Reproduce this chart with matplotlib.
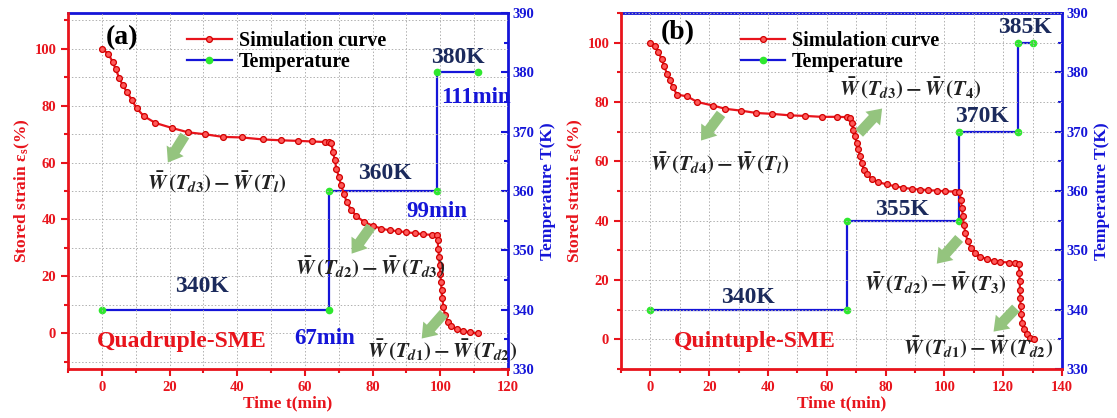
import matplotlib
matplotlib.use("Agg")
import matplotlib.pyplot as plt
from matplotlib.ticker import MultipleLocator

plt.rcParams['font.family'] = ['Liberation Serif', 'DejaVu Serif']
plt.rcParams['font.weight'] = 'bold'
plt.rcParams['mathtext.fontset'] = 'stix'

RED = '#e8141c'
BLUE = '#1515d8'
NAVY = '#1b2a5c'
GREEN = '#2ee82e'
ARROW = '#94c47e'

# panel (a) data
t_a = [0, 1.9, 3.2, 4.1, 5.1, 6.1, 7.4, 8.8, 10.3, 12.4, 15.8, 20.8, 25.5, 30.6,
       35.8, 41.4, 47.6, 53, 58, 62, 66, 67, 67.8, 68.3, 68.8, 69.3, 70.0, 70.7,
       71.5, 72.3, 73.6, 75.2, 77.4, 80, 82.6, 85, 87.5, 90, 92.5, 95, 97.4, 99,
       99.2, 99.4, 99.6, 99.8, 100.0, 100.2, 100.4, 100.6, 100.9, 101.4, 102.2,
       103.3, 104.8, 106.6, 108.8, 111]
strain_a = [100, 98.2, 95.3, 92.7, 89.8, 87.3, 84.8, 82.1, 79, 76.3, 73.9, 72.1,
            70.6, 69.9, 69.0, 68.8, 68.1, 67.8, 67.6, 67.4, 67.2, 67.1, 66.7, 63.7,
            60.8, 57.9, 55, 52, 49.1, 46.2, 43.5, 41.2, 39.2, 37.8, 36.8, 36.2,
            35.9, 35.5, 35.2, 34.8, 34.6, 34.5, 32.7, 29.8, 26.9, 24, 21, 18.1,
            15.2, 12.3, 9.3, 6.4, 4.1, 2.6, 1.5, 0.8, 0.35, 0]
temp_t_a = [0, 67, 67, 99, 99, 111]
temp_a = [340, 340, 360, 360, 380, 380]

# panel (b) data
t_b = [0, 1.6, 2.7, 3.8, 4.7, 5.6, 6.5, 7.6, 9.0, 12.5, 15.9, 21.3, 25.5, 30.7,
       36.0, 41.4, 47.4, 52.7, 58.2, 63.3, 66.8, 67.9, 68.4, 69.0, 69.6, 70.1,
       70.7, 71.3, 71.8, 72.6, 73.8, 75.2, 77.5, 80.4, 83.2, 86.0, 88.9, 91.7,
       94.5, 97.4, 100.2, 103.6, 105.1, 105.6, 105.9, 106.3, 106.6, 107.1, 107.9,
       109.0, 110.5, 112.2, 114.5, 116.7, 119, 121.8, 124.1, 125.2, 125.5, 125.6,
       125.7, 125.8, 125.9, 126.1, 126.5, 127.2, 128.1, 129.2, 130.3]
strain_b = [100, 98.8, 96.9, 94.5, 92, 89.6, 87.5, 85.1, 82.5, 81.9, 80.0, 78.8,
            77.7, 77.1, 76.3, 76.0, 75.5, 75.3, 75.0, 75.0, 74.9, 74.6, 73, 70.7,
            68.4, 66.2, 64, 61.7, 59.5, 57.2, 55.6, 54.1, 53, 52.2, 51.6, 51.1,
            50.7, 50.5, 50.3, 50.1, 49.9, 49.8, 49.6, 47.1, 44.3, 41.5, 38.7, 35.9,
            33.1, 30.9, 29.2, 27.9, 27, 26.4, 26.1, 25.9, 25.6, 25.3, 22.5, 19.6,
            16.8, 14, 11.2, 8.4, 5.6, 3.4, 1.7, 0.6, 0]
temp_t_b = [0, 67, 67, 105, 105, 125, 125, 130]
temp_b = [340, 340, 355, 355, 370, 370, 385, 385]


def setup_panel(rect, t, strain, tt, temp, xmax, ylim):
    ax = fig.add_axes(rect)
    ax2 = ax.twinx()
    ax.set_zorder(ax2.get_zorder() + 1)
    ax.patch.set_visible(False)

    ln1, = ax.plot(t, strain, '-o', color=RED, lw=1.6, ms=4.2,
                   mfc='#ff5a5a', mec='#d00000', mew=0.9,
                   label='Simulation curve')
    ln2, = ax2.plot(tt, temp, '-o', color=BLUE, lw=1.6, ms=4.5,
                    mfc=GREEN, mec=GREEN, label='Temperature')

    ax.set_xlim(-10, xmax)
    ax.set_ylim(*ylim)
    ax2.set_ylim(330, 390)

    ax.xaxis.set_major_locator(MultipleLocator(20))
    ax.xaxis.set_minor_locator(MultipleLocator(10))
    ax.yaxis.set_major_locator(MultipleLocator(20))
    ax.yaxis.set_minor_locator(MultipleLocator(10))
    ax2.yaxis.set_major_locator(MultipleLocator(10))
    ax2.yaxis.set_minor_locator(MultipleLocator(5))

    ax.grid(True, which='both', ls=(0, (1.5, 2)), color='#b0b0b0', lw=0.7)

    for s in ['top', 'right']:
        ax.spines[s].set_visible(False)
    for s in ['left', 'bottom']:
        ax2.spines[s].set_visible(False)
        ax.spines[s].set_color(RED)
        ax.spines[s].set_linewidth(2)
    for s in ['top', 'right']:
        ax2.spines[s].set_color(BLUE)
        ax2.spines[s].set_linewidth(2)

    ax.tick_params(axis='both', which='both', colors=RED, direction='out',
                   width=1.5, labelsize=10.5)
    ax.tick_params(which='major', length=5)
    ax.tick_params(which='minor', length=3)
    ax2.tick_params(axis='y', which='both', colors=BLUE, direction='in',
                    width=1.5, labelsize=10.5)
    ax2.tick_params(axis='y', which='major', length=5)
    ax2.tick_params(axis='y', which='minor', length=3)
    ax2.tick_params(axis='x', which='both', top=True, bottom=False,
                    labeltop=False, labelbottom=False, color=BLUE,
                    direction='in', width=1.5)
    ax2.tick_params(axis='x', which='major', length=5)
    ax2.tick_params(axis='x', which='minor', length=3)

    ax.set_xlabel('Time t(min)', color=RED, fontsize=12.5, fontweight='bold',
                  labelpad=1)
    ax.set_ylabel(r'Stored strain ε$_\mathregular{s}$(%)', color=RED,
                  fontsize=12.5, fontweight='bold', labelpad=2)
    ax2.set_ylabel('Temperature T(K)', color=BLUE, fontsize=12.5,
                   fontweight='bold', labelpad=4)

    ax.legend([ln1, ln2], ['Simulation curve', 'Temperature'],
              loc='upper left', bbox_to_anchor=(0.23, 1.0), frameon=False,
              handlelength=2.2, handletextpad=0.35, labelspacing=0.05,
              prop={'size': 14.5, 'weight': 'bold'})
    return ax, ax2


def arrow(ax, tail, head):
    ax.annotate('', xy=head, xytext=tail,
                arrowprops=dict(arrowstyle='simple,head_width=0.8,head_length=0.55,tail_width=0.42',
                                color=ARROW, lw=0, mutation_scale=18,
                                shrinkA=0, shrinkB=0))


def formula(ax, x, y, s):
    ax.text(x, y, s, fontsize=15, fontweight='normal', ha='center',
            va='center', color='#222222')


fig = plt.figure(figsize=(11.17, 4.18), dpi=100)

# ---- panel (a)
axa, axa2 = setup_panel([0.0609, 0.1172, 0.3939, 0.8517], t_a, strain_a,
                        temp_t_a, temp_a, 120, (-12.5, 112.5))
axa.text(6, 104, '(a)', fontsize=20, fontweight='bold', ha='center', va='center')
axa.text(29.5, 16.4, '340K', color=NAVY, fontsize=17, ha='center', va='center')
axa.text(83.6, 56.1, '360K', color=NAVY, fontsize=17, ha='center', va='center')
axa.text(105.3, 97.0, '380K', color=NAVY, fontsize=17, ha='center', va='center')
axa.text(65.9, -1.8, '67min', color=BLUE, fontsize=16.5, ha='center', va='center')
axa.text(98.9, 42.7, '99min', color=BLUE, fontsize=16.5, ha='center', va='center')
axa.text(110.5, 83.0, '111min', color=BLUE, fontsize=16.5, ha='center', va='center')
axa.text(23.5, -2.9, 'Quadruple-SME', color=RED, fontsize=17, ha='center', va='center')
formula(axa, 33.9, 53.2, r'$\bar{W}\,(T_{d3})-\bar{W}\,(T_l)$')
formula(axa, 79.2, 23.4, r'$\bar{W}\,(T_{d2})-\bar{W}\,(T_{d3})$')
formula(axa, 100.4, -5.9, r'$\bar{W}\,(T_{d1})-\bar{W}\,(T_{d2})$')
arrow(axa, (24.5, 69.5), (19.5, 60.0))
arrow(axa, (79.5, 37.5), (73.8, 28.0))
arrow(axa, (101, 7.0), (94.5, -1.8))

# ---- panel (b)
axb, axb2 = setup_panel([0.556, 0.1172, 0.3948, 0.8517], t_b, strain_b,
                        temp_t_b, temp_b, 140, (-10, 110))
axb.text(9.3, 103.3, '(b)', fontsize=20, fontweight='bold', ha='center', va='center')
axb.text(33, 14, '340K', color=NAVY, fontsize=17, ha='center', va='center')
axb.text(85.5, 43.8, '355K', color=NAVY, fontsize=17, ha='center', va='center')
axb.text(112.7, 75.2, '370K', color=NAVY, fontsize=17, ha='center', va='center')
axb.text(127.5, 105.0, '385K', color=NAVY, fontsize=17, ha='center', va='center')
axb.text(35.5, -0.6, 'Quintuple-SME', color=RED, fontsize=17, ha='center', va='center')
formula(axb, 23.5, 59.5, r'$\bar{W}\,(T_{d4})-\bar{W}\,(T_l)$')
formula(axb, 88.3, 84.7, r'$\bar{W}\,(T_{d3})-\bar{W}\,(T_4)$')
formula(axb, 96.8, 19.0, r'$\bar{W}\,(T_{d2})-\bar{W}\,(T_3)$')
formula(axb, 111.6, -2.8, r'$\bar{W}\,(T_{d1})-\bar{W}\,(T_{d2})$')
arrow(axb, (24, 76), (17.2, 67.0))
arrow(axb, (71, 69.5), (78.8, 77.8))
arrow(axb, (105, 34), (97.4, 25.5))
arrow(axb, (124.3, 10.5), (116.7, 2.6))

fig.savefig('out.png', dpi=100)
